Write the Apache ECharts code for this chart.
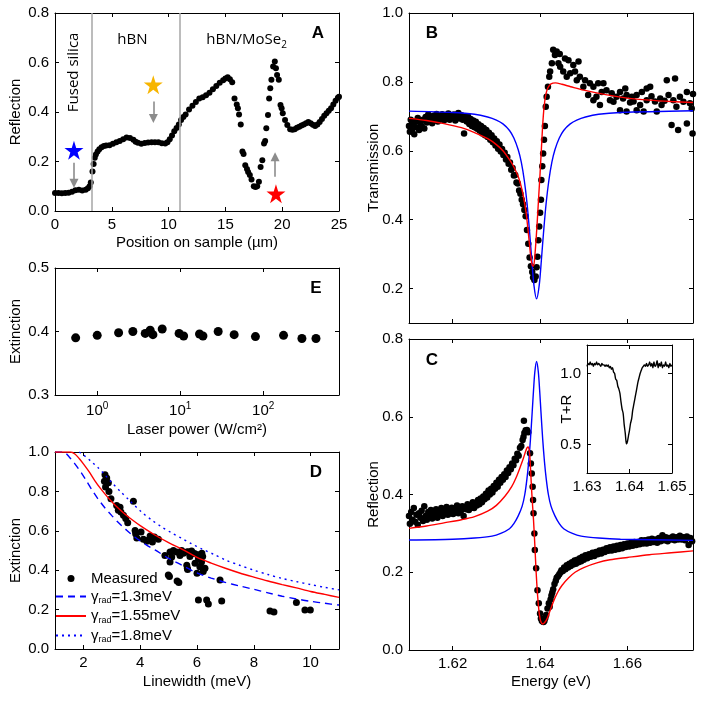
<!DOCTYPE html>
<html>
<head>
<meta charset="utf-8">
<title>Reflection, transmission and extinction</title>
<script src="https://cdn.jsdelivr.net/npm/echarts@6.0.0/dist/echarts.min.js"></script>
<style>
  *{margin:0;padding:0;}
  html,body{width:100%;height:100%;background:#fff;}
  #main{width:709px;height:709px;}
</style>
</head>
<body>
<div id="main"></div>
<script>
// ---- panel A: reflection scan across the sample ----
var aScan = [[0,0.073],[0.3,0.073],[0.6,0.072],[0.9,0.073],[1.2,0.074],[1.5,0.078],[1.8,0.084],[2.1,0.086],[2.4,0.083],[2.7,0.086],
  [2.9,0.092],[3.05,0.100],[3.15,0.115],[3.3,0.16],[3.4,0.19],[3.5,0.215],[3.6,0.228],[3.75,0.24],[3.9,0.25],[4.1,0.258],
  [4.3,0.263],[4.5,0.265],[4.8,0.266],[5.1,0.272],[5.4,0.278],[5.7,0.283],[6.0,0.29],[6.3,0.297],[6.6,0.295],[6.9,0.288],
  [7.1,0.28],[7.3,0.276],[7.6,0.272],[7.9,0.275],[8.2,0.277],[8.5,0.278],[8.8,0.278],[9.1,0.278],[9.4,0.274],[9.7,0.273],
  [9.9,0.278],[10.1,0.29],[10.3,0.305],[10.5,0.322],[10.7,0.335],[10.9,0.35],[11.1,0.368],[11.3,0.38],[11.5,0.39],[11.8,0.41],
  [12.1,0.425],[12.4,0.44],[12.7,0.455],[13.0,0.46],[13.3,0.468],[13.6,0.478],[13.9,0.492],[14.2,0.505],[14.5,0.518],[14.8,0.528],
  [15.0,0.535],[15.2,0.54],[15.4,0.532],[15.6,0.52],[15.8,0.455],[16.0,0.43],[16.1,0.415],[16.2,0.39],[16.35,0.35],[16.5,0.24],
  [16.6,0.23],[16.75,0.185],[16.9,0.17],[17.0,0.158],[17.15,0.145],[17.3,0.127],[17.5,0.10],[17.65,0.097],[17.8,0.10],[17.95,0.118],
  [18.1,0.178],[18.25,0.205],[18.4,0.273],[18.5,0.283],[18.6,0.334],[18.75,0.388],[18.85,0.455],[18.95,0.496],[19.05,0.53],[19.2,0.584],
  [19.35,0.604],[19.45,0.577],[19.55,0.55],[19.7,0.53],[19.85,0.428],[19.95,0.415],[20.05,0.395],[20.25,0.368],[20.45,0.347],[20.7,0.33],
  [20.9,0.328],[21.1,0.33],[21.3,0.336],[21.5,0.34],[21.7,0.345],[21.9,0.35],[22.1,0.355],[22.3,0.36],[22.5,0.355],[22.7,0.348],
  [22.9,0.343],[23.1,0.35],[23.3,0.36],[23.5,0.372],[23.7,0.385],[23.9,0.395],[24.1,0.405],[24.3,0.415],[24.5,0.43],[24.7,0.445],
  [24.9,0.458],[25.0,0.462]];
var aBounds = [3.25, 11];
var aStars = [[1.67,0.245],[8.65,0.51],[19.45,0.07]];
var aStarColors = ['#0000ff','#f7b500','#ff0000'];
var aArrows = [[[1.67,0.195],[1.67,0.112]],[[8.66,0.442],[8.66,0.374]],[[19.37,0.138],[19.37,0.219]]];
var aNotes = [[1.67,0.56,'Fused silica',90],[6.81,0.69,'hBN',0],[16.87,0.69,'{t|hBN/MoSe}{s|2}',0]];

// ---- panel E: extinction vs laser power ----
var ePower = [0.55,1.0,1.81,2.69,3.79,4.35,4.69,6.07,9.7,11.0,17.1,18.8,28.7,44.7,80.7,176,293,433];
var eExt = [0.390,0.394,0.398,0.400,0.397,0.402,0.395,0.404,0.397,0.393,0.396,0.393,0.400,0.395,0.392,0.394,0.389,0.389];

// ---- panel D: extinction vs linewidth ----
var dMeas = [[2.76,0.885],[2.82,0.868],[2.74,0.851],[2.88,0.844],[2.78,0.822],[2.9,0.80],[2.97,0.763],[3.17,0.729],[3.29,0.72],[3.23,0.704],
  [3.32,0.695],[3.41,0.679],[3.49,0.662],[3.56,0.641],[3.76,0.75],[3.82,0.602],[3.84,0.585],[3.88,0.563],[4.03,0.594],[4.11,0.557],
  [4.23,0.547],[4.35,0.574],[4.5,0.568],[4.43,0.543],[4.64,0.557],[4.29,0.553],[4.87,0.475],[4.99,0.376],[5.03,0.368],[5.3,0.345],
  [5.36,0.338],[5.05,0.492],[5.17,0.50],[5.28,0.492],[5.46,0.50],[5.64,0.492],[5.81,0.497],[5.93,0.484],[6.05,0.459],[6.16,0.442],
  [5.11,0.467],[5.05,0.442],[5.64,0.425],[5.67,0.404],[5.52,0.486],[5.69,0.494],[5.87,0.486],[6.05,0.478],[6.17,0.486],[5.66,0.41],
  [5.93,0.435],[6.1,0.418],[6.22,0.393],[6.0,0.384],[6.28,0.41],[6.81,0.35],[6.05,0.249],[6.34,0.249],[6.4,0.229],[6.87,0.244],
  [8.57,0.193],[8.71,0.188],[9.5,0.236],[9.8,0.198],[9.99,0.198],[5.4,0.475],[5.75,0.47],[6.2,0.47]];
var dFit13 = [[1.0,1.0],[1.3,1.0],[1.5,0.975],[1.7,0.94],[1.94,0.892],[2.1,0.855],[2.29,0.81],[2.5,0.765],[2.76,0.716],[3.0,0.677],
  [3.23,0.642],[3.5,0.606],[3.82,0.567],[4.2,0.53],[4.52,0.503],[5.0,0.46],[5.46,0.426],[6.0,0.386],[6.5,0.36],[7.0,0.338],
  [7.5,0.32],[8.0,0.303],[8.5,0.285],[9.0,0.268],[9.5,0.254],[10.0,0.242],[10.5,0.232],[11.0,0.223]];
var dFit155 = [[1.0,1.0],[1.55,1.0],[1.7,0.99],[1.85,0.967],[2.0,0.94],[2.2,0.90],[2.4,0.855],[2.6,0.815],[2.8,0.78],[3.0,0.748],
  [3.25,0.712],[3.5,0.68],[3.75,0.652],[4.0,0.626],[4.5,0.58],[5.0,0.54],[5.5,0.505],[6.0,0.465],[6.5,0.436],[7.0,0.41],
  [7.5,0.386],[8.0,0.365],[8.5,0.345],[9.0,0.327],[9.5,0.31],[10.0,0.292],[10.5,0.277],[11.0,0.262]];
var dFit18 = [[1.85,1.0],[2.0,0.985],[2.25,0.955],[2.52,0.92],[2.75,0.885],[3.0,0.845],[3.3,0.80],[3.58,0.76],[4.05,0.695],[4.4,0.655],
  [4.75,0.62],[5.1,0.59],[5.46,0.562],[5.8,0.535],[6.17,0.508],[6.6,0.48],[7.0,0.452],[7.5,0.425],[8.0,0.40],[8.5,0.378],
  [9.0,0.358],[9.5,0.342],[10.0,0.327],[10.5,0.313],[11.0,0.30]];

// ---- panel B: transmission spectrum ----
var bMeas = [[1.6100,0.672],[1.6102,0.655],[1.6104,0.690],[1.6107,0.660],[1.6109,0.678],[1.6112,0.648],[1.6115,0.685],[1.6117,0.668],
  [1.6120,0.695],[1.6123,0.660],[1.6126,0.682],[1.6129,0.672],[1.6132,0.690],[1.6135,0.665],[1.6138,0.698],[1.6141,0.682],[1.6144,0.705],
  [1.6147,0.688],[1.6150,0.696],[1.6153,0.680],[1.6156,0.702],[1.6160,0.690],[1.6163,0.707],[1.6166,0.685],[1.6170,0.698],[1.6173,0.692],
  [1.6176,0.706],[1.6180,0.688],[1.6183,0.700],[1.6186,0.694],[1.6190,0.708],[1.6193,0.690],[1.6196,0.702],[1.6200,0.697],[1.6203,0.705],
  [1.6206,0.688],[1.6210,0.700],[1.6213,0.710],[1.6216,0.694],[1.6220,0.703],[1.6223,0.690],[1.6226,0.650],[1.6229,0.698],[1.6232,0.685],
  [1.6235,0.700],[1.6238,0.678],[1.6241,0.692],[1.6244,0.672],[1.6247,0.688],[1.6250,0.668],[1.6253,0.684],[1.6256,0.664],[1.6259,0.677],
  [1.6262,0.658],[1.6265,0.672],[1.6268,0.650],[1.6271,0.666],[1.6274,0.645],[1.6277,0.660],[1.6280,0.640],[1.6283,0.652],[1.6286,0.632],
  [1.6289,0.645],[1.6292,0.625],[1.6295,0.636],[1.6298,0.615],[1.6301,0.628],[1.6304,0.606],[1.6307,0.618],[1.6310,0.598],[1.6313,0.605],
  [1.6316,0.588],[1.6319,0.594],[1.6322,0.575],[1.6325,0.582],[1.6328,0.562],[1.6331,0.566],[1.6334,0.545],[1.6337,0.550],[1.6340,0.528],
  [1.6343,0.530],[1.6346,0.508],[1.6349,0.505],[1.6352,0.485],[1.6355,0.475],[1.6358,0.458],[1.6361,0.445],[1.6364,0.428],[1.6367,0.410],
  [1.6370,0.370],[1.6373,0.330],[1.6376,0.290],[1.6379,0.265],[1.6382,0.248],[1.6384,0.232],[1.6387,0.225],[1.6390,0.235],[1.6392,0.262],
  [1.6394,0.292],[1.6396,0.340],[1.6398,0.380],[1.6400,0.420],[1.6402,0.458],[1.6403,0.515],[1.6405,0.555],[1.6407,0.592],[1.6409,0.632],
  [1.6411,0.672],[1.6413,0.728],[1.6415,0.757],[1.6418,0.786],[1.6421,0.815],[1.6423,0.830],[1.6430,0.893],[1.6438,0.888],[1.6445,0.881],
  [1.6434,0.878],[1.6427,0.854],[1.6442,0.854],[1.6457,0.868],[1.6465,0.863],[1.6488,0.859],[1.6476,0.849],[1.6446,0.844],[1.6453,0.830],
  [1.6469,0.825],[1.6480,0.830],[1.6491,0.815],[1.6503,0.805],[1.6514,0.796],[1.6461,0.815],[1.6484,0.805],[1.6499,0.786],[1.6522,0.786],
  [1.6533,0.796],[1.6545,0.796],[1.6510,0.762],[1.6529,0.757],[1.6541,0.771],[1.6552,0.776],[1.6564,0.767],[1.6575,0.757],[1.6560,0.747],
  [1.6583,0.771],[1.6595,0.781],[1.6598,0.762],[1.6610,0.757],[1.6621,0.762],[1.6633,0.771],[1.6644,0.781],[1.6652,0.786],[1.6614,0.743],
  [1.6629,0.733],[1.6644,0.747],[1.6663,0.743],[1.6675,0.752],[1.6690,0.805],[1.6709,0.810],[1.6694,0.762],[1.6705,0.747],[1.6720,0.757],
  [1.6736,0.771],[1.6743,0.738],[1.6701,0.675],[1.6716,0.660],[1.6736,0.679],[1.6747,0.723],[1.6667,0.714],[1.6678,0.733],[1.6583,0.718],
  [1.6598,0.714],[1.6621,0.718],[1.6637,0.714],[1.6537,0.733],[1.6522,0.747],[1.6568,0.742],[1.6590,0.752],[1.6606,0.740],[1.6655,0.758],
  [1.6685,0.745],[1.6712,0.728],[1.6728,0.742],[1.6750,0.765],[1.6752,0.700],[1.6749,0.650]];
var bFitRed = [[1.61,0.694],[1.614,0.688],[1.618,0.679],[1.622,0.667],[1.625,0.653],[1.628,0.635],[1.630,0.618],[1.6315,0.600],
  [1.633,0.574],[1.634,0.553],[1.635,0.525],[1.6357,0.495],[1.6363,0.46],[1.6368,0.42],[1.6372,0.375],[1.6376,0.325],[1.6379,0.29],
  [1.6382,0.268],[1.6385,0.265],[1.6388,0.295],[1.6391,0.345],[1.6394,0.405],[1.6397,0.47],[1.64,0.535],[1.6403,0.605],[1.6406,0.675],
  [1.6409,0.725],[1.6413,0.762],[1.6418,0.783],[1.6425,0.794],[1.6435,0.797],[1.645,0.793],[1.647,0.786],[1.65,0.776],[1.655,0.763],
  [1.66,0.753],[1.665,0.747],[1.67,0.743],[1.675,0.740]];
var bFitBlue = [[1.61,0.715],[1.62,0.711],[1.625,0.706],[1.628,0.698],[1.63,0.689],[1.6315,0.678],[1.633,0.659],[1.634,0.637],
  [1.635,0.603],[1.6357,0.567],[1.6364,0.513],[1.637,0.449],[1.6376,0.364],[1.6381,0.283],[1.6386,0.209],[1.6392,0.17],[1.6398,0.209],
  [1.6403,0.283],[1.6408,0.364],[1.6414,0.449],[1.642,0.513],[1.6427,0.567],[1.6434,0.603],[1.6444,0.637],[1.6454,0.659],[1.6469,0.678],
  [1.6484,0.689],[1.6504,0.698],[1.6534,0.706],[1.6584,0.711],[1.675,0.716]];

// ---- panel C: reflection spectrum ----
var cMeas = [[1.6100,0.345],[1.6102,0.325],[1.6105,0.355],[1.6108,0.335],[1.6111,0.365],[1.6114,0.330],[1.6117,0.348],[1.6120,0.322],
  [1.6123,0.352],[1.6126,0.340],[1.6129,0.358],[1.6132,0.332],[1.6135,0.370],[1.6138,0.345],[1.6141,0.335],[1.6144,0.355],[1.6147,0.342],
  [1.6150,0.360],[1.6153,0.338],[1.6156,0.352],[1.6159,0.345],[1.6162,0.362],[1.6165,0.340],[1.6168,0.356],[1.6171,0.348],[1.6174,0.365],
  [1.6177,0.345],[1.6180,0.358],[1.6183,0.350],[1.6186,0.368],[1.6189,0.348],[1.6192,0.360],[1.6195,0.352],[1.6198,0.366],[1.6201,0.350],
  [1.6204,0.362],[1.6207,0.355],[1.6210,0.372],[1.6213,0.352],[1.6216,0.365],[1.6219,0.358],[1.6222,0.370],[1.6225,0.345],[1.6228,0.368],
  [1.6231,0.362],[1.6234,0.375],[1.6237,0.360],[1.6240,0.372],[1.6243,0.366],[1.6246,0.380],[1.6249,0.365],[1.6252,0.378],[1.6255,0.372],
  [1.6258,0.386],[1.6261,0.375],[1.6264,0.390],[1.6267,0.380],[1.6270,0.395],[1.6273,0.388],[1.6276,0.402],[1.6279,0.392],[1.6282,0.410],
  [1.6285,0.400],[1.6288,0.415],[1.6291,0.405],[1.6294,0.422],[1.6297,0.415],[1.6300,0.430],[1.6303,0.420],[1.6306,0.438],[1.6309,0.430],
  [1.6312,0.445],[1.6315,0.438],[1.6318,0.452],[1.6321,0.445],[1.6324,0.462],[1.6327,0.455],[1.6330,0.470],[1.6333,0.465],[1.6336,0.480],
  [1.6339,0.475],[1.6342,0.492],[1.6345,0.488],[1.6348,0.505],[1.6351,0.500],[1.6354,0.520],[1.6357,0.525],[1.6360,0.540],[1.6362,0.548],
  [1.6364,0.558],[1.6363,0.590],[1.6367,0.565],[1.6370,0.566],[1.6373,0.560],[1.6377,0.506],[1.6379,0.480],[1.6381,0.454],[1.6383,0.420],
  [1.6384,0.386],[1.6385,0.352],[1.6387,0.300],[1.6388,0.257],[1.6391,0.210],[1.6394,0.154],[1.6397,0.120],[1.6400,0.094],[1.6402,0.081],
  [1.6404,0.075],[1.6406,0.073],[1.6408,0.072],[1.6410,0.075],[1.6412,0.082],[1.6414,0.090],[1.6417,0.107],[1.6420,0.120],[1.6422,0.111],
  [1.6424,0.130],[1.6426,0.140],[1.6428,0.148],[1.6430,0.156],[1.6433,0.170],[1.6436,0.178],[1.6438,0.186],[1.6441,0.190],[1.6444,0.195],
  [1.6447,0.200],[1.6449,0.205],[1.6452,0.203],[1.6455,0.212],[1.6458,0.208],[1.6461,0.218],[1.6464,0.212],[1.6467,0.222],[1.6470,0.216],
  [1.6473,0.226],[1.6476,0.220],[1.6479,0.230],[1.6482,0.222],[1.6485,0.232],[1.6488,0.226],[1.6491,0.236],[1.6494,0.228],[1.6497,0.240],
  [1.6500,0.232],[1.6504,0.244],[1.6508,0.236],[1.6512,0.246],[1.6516,0.240],[1.6520,0.250],[1.6524,0.242],[1.6528,0.252],[1.6532,0.246],
  [1.6536,0.256],[1.6540,0.248],[1.6544,0.258],[1.6548,0.252],[1.6552,0.262],[1.6556,0.255],[1.6560,0.264],[1.6564,0.256],[1.6568,0.266],
  [1.6572,0.258],[1.6576,0.268],[1.6580,0.260],[1.6584,0.270],[1.6588,0.262],[1.6592,0.272],[1.6596,0.265],[1.6600,0.274],[1.6604,0.266],
  [1.6608,0.276],[1.6612,0.268],[1.6616,0.278],[1.6620,0.270],[1.6624,0.278],[1.6628,0.272],[1.6632,0.282],[1.6636,0.274],[1.6640,0.282],
  [1.6644,0.274],[1.6648,0.284],[1.6652,0.276],[1.6656,0.286],[1.6660,0.278],[1.6664,0.284],[1.6668,0.276],[1.6672,0.288],[1.6676,0.280],
  [1.6680,0.295],[1.6684,0.282],[1.6688,0.290],[1.6692,0.280],[1.6696,0.288],[1.6700,0.284],[1.6704,0.292],[1.6708,0.282],[1.6712,0.290],
  [1.6716,0.284],[1.6720,0.294],[1.6724,0.284],[1.6728,0.290],[1.6732,0.282],[1.6736,0.292],[1.6740,0.270],[1.6744,0.288],[1.6748,0.280],
  [1.6752,0.290]];
var cFitRed = [[1.61,0.313],[1.614,0.319],[1.618,0.327],[1.622,0.335],[1.625,0.343],[1.628,0.357],[1.630,0.372],[1.632,0.396],
  [1.6335,0.42],[1.6345,0.443],[1.6355,0.472],[1.6362,0.494],[1.6367,0.511],[1.637,0.52],[1.6373,0.522],[1.6376,0.505],[1.6378,0.47],
  [1.638,0.425],[1.6382,0.386],[1.6385,0.334],[1.6388,0.27],[1.6391,0.20],[1.6394,0.145],[1.6397,0.105],[1.64,0.08],[1.6403,0.07],
  [1.6406,0.067],[1.641,0.07],[1.6415,0.078],[1.642,0.092],[1.643,0.123],[1.644,0.148],[1.645,0.166],[1.6465,0.185],[1.648,0.20],
  [1.65,0.212],[1.653,0.224],[1.656,0.232],[1.66,0.238],[1.665,0.245],[1.67,0.25],[1.675,0.255]];
var cFitBlue = [[1.61,0.283],[1.62,0.285],[1.625,0.288],[1.629,0.293],[1.631,0.30],[1.633,0.312],[1.634,0.325],[1.635,0.345],
  [1.6359,0.37],[1.6365,0.40],[1.637,0.441],[1.6374,0.485],[1.6378,0.542],[1.6382,0.613],[1.6385,0.668],[1.6388,0.715],[1.6392,0.742],
  [1.6396,0.715],[1.6399,0.668],[1.6402,0.613],[1.6406,0.542],[1.641,0.485],[1.6414,0.441],[1.6419,0.40],[1.6425,0.37],[1.6434,0.345],
  [1.6444,0.325],[1.6454,0.312],[1.6474,0.30],[1.6494,0.293],[1.6534,0.288],[1.6584,0.285],[1.675,0.282]];

// ---- inset: T+R ----
var tr = [[1.6300,1.05],[1.63025,1.07],[1.6305,1.06],[1.63075,1.08],[1.6310,1.06],[1.63125,1.07],[1.6315,1.05],[1.63175,1.07],[1.6320,1.06],
  [1.63225,1.08],[1.6325,1.06],[1.63275,1.07],[1.6330,1.06],[1.63325,1.05],[1.6335,1.07],[1.63375,1.06],[1.6340,1.06],[1.63425,1.05],
  [1.6345,1.06],[1.63475,1.05],[1.6350,1.06],[1.63525,1.04],[1.6355,1.05],[1.63575,1.03],[1.6360,1.04],[1.63625,1.01],[1.6365,1.00],
  [1.63675,0.96],[1.6370,0.95],[1.63725,0.91],[1.6375,0.89],[1.63775,0.86],[1.6380,0.80],[1.63825,0.75],[1.6385,0.72],[1.63875,0.64],
  [1.6390,0.58],[1.63915,0.53],[1.6393,0.505],[1.6395,0.52],[1.63975,0.56],[1.6400,0.60],[1.64025,0.65],[1.6405,0.68],[1.64075,0.74],
  [1.6410,0.78],[1.64125,0.82],[1.6415,0.86],[1.64175,0.90],[1.6420,0.94],[1.64225,0.97],[1.6425,1.00],[1.64275,1.02],[1.6430,1.04],
  [1.64325,1.05],[1.6435,1.06],[1.64375,1.05],[1.6440,1.07],[1.64425,1.05],[1.6445,1.06],[1.64475,1.08],[1.6450,1.05],[1.64525,1.07],
  [1.6455,1.04],[1.64575,1.08],[1.6460,1.05],[1.64625,1.06],[1.6465,1.09],[1.64675,1.04],[1.6470,1.07],[1.64725,1.05],[1.6475,1.08],
  [1.64775,1.04],[1.6480,1.06],[1.64825,1.05],[1.6485,1.08],[1.64875,1.05],[1.6490,1.06],[1.64925,1.04],[1.6495,1.07],[1.64975,1.05],
  [1.6500,1.06]];

var FONT = '"Liberation Sans", Arial, sans-serif';
var NOTEFONT = '"Open Sans", sans-serif';
var STAR = 'path://M50,0 L61.2,34.5 L97.6,34.5 L68.2,55.9 L79.4,90.5 L50,69.1 L20.6,90.5 L31.8,55.9 L2.4,34.5 L38.8,34.5 Z';

var xAxes = [], yAxes = [];
function axis(gi, a, mirror, pos) {
  return {
    gridIndex: gi, position: pos, type: a.type || 'value', logBase: 10,
    min: a.min, max: a.max, interval: a.interval, z: a.z || 0,
    axisLine: {show: true, onZero: false, lineStyle: {color: '#000', width: 1}},
    axisTick: {show: true, inside: true, length: 4, lineStyle: {color: '#000'}, customValues: a.ticks},
    splitLine: {show: false},
    axisLabel: {show: !mirror && a.labels !== false, color: '#000', fontFamily: FONT, fontSize: 15,
      margin: 6, customValues: a.ticks, formatter: a.fmt,
      rich: {b: {fontFamily: FONT, fontSize: 15, color: '#000'},
             p: {fontFamily: FONT, fontSize: 10, color: '#000', padding: [0, 0, 9, 0]}}},
    name: mirror ? '' : a.name, nameLocation: 'middle', nameGap: a.gap, nameMoveOverlap: false,
    nameTextStyle: {color: '#000', fontFamily: FONT, fontSize: 15}
  };
}
function addPanel(gi, x, y) {
  xAxes.push(axis(gi, x, false, 'bottom'), axis(gi, x, true, 'top'));
  yAxes.push(axis(gi, y, false, 'left'), axis(gi, y, true, 'right'));
}
function f1(v) { return v.toFixed(1); }
function f2(v) { return v.toFixed(2); }

// 0 A, 1 E, 2 D, 3 B, 4 C, 5 inset
addPanel(0, {min: 0, max: 25, interval: 5, name: 'Position on sample (\u00b5m)', gap: 24},
            {min: 0, max: 0.8, interval: 0.2, fmt: f1, name: 'Reflection', gap: 32});
addPanel(1, {type: 'log', min: 0.31, max: 820, ticks: [1, 10, 100], name: 'Laser power (W/cm\u00b2)', gap: 27,
             fmt: function (v) { return '{b|10}{p|' + Math.round(Math.log(v) / Math.LN10) + '}'; }},
            {min: 0.3, max: 0.5, interval: 0.1, fmt: f1, name: 'Extinction', gap: 32});
addPanel(2, {min: 1, max: 11, ticks: [2, 4, 6, 8, 10], name: 'Linewidth (meV)', gap: 25},
            {min: 0, max: 1, interval: 0.2, fmt: f1, name: 'Extinction', gap: 32});
addPanel(3, {min: 1.61, max: 1.675, ticks: [1.62, 1.64, 1.66], labels: false},
            {min: 0.1, max: 1.0, ticks: [0.2, 0.4, 0.6, 0.8, 1.0], fmt: f1, name: 'Transmission', gap: 28});
addPanel(4, {min: 1.61, max: 1.675, ticks: [1.62, 1.64, 1.66], fmt: f2, name: 'Energy (eV)', gap: 24},
            {min: 0, max: 0.8, interval: 0.2, fmt: f1, name: 'Reflection', gap: 28});
addPanel(5, {min: 1.63, max: 1.65, ticks: [1.63, 1.64, 1.65], fmt: f2, z: 6},
            {min: 0.3, max: 1.2, ticks: [0.5, 1.0], fmt: f1, name: 'T+R', gap: 13, z: 6});

function dots(gi, data, size, name) {
  return {type: 'scatter', name: name || '', xAxisIndex: 2 * gi, yAxisIndex: 2 * gi, data: data,
    symbolSize: size, itemStyle: {color: '#000', opacity: 1}, silent: true};
}
function curve(gi, data, color, type, name, z) {
  return {type: 'line', name: name || '', xAxisIndex: 2 * gi, yAxisIndex: 2 * gi, data: data,
    showSymbol: false, symbol: 'none', smooth: 0.3, z: z || 3,
    lineStyle: {color: color, width: 1.4, type: type || 'solid'}, itemStyle: {color: color}, silent: true};
}

var eData = ePower.map(function (p, i) { return [p, eExt[i]]; });

var aScanSeries = dots(0, aScan, 6);
aScanSeries.markLine = {silent: true, symbol: 'none', label: {show: false},
  lineStyle: {color: '#a6a6a6', width: 1.5, type: 'solid'},
  data: aBounds.map(function (b) { return {xAxis: b}; })};

var aStarSeries = {type: 'scatter', xAxisIndex: 0, yAxisIndex: 0, symbol: STAR, symbolSize: 19, silent: true, z: 4,
  itemStyle: {opacity: 1},
  data: aStars.map(function (s, i) { return {value: s, itemStyle: {color: aStarColors[i], opacity: 1}}; }),
  markLine: {silent: true, symbol: ['none', 'triangle'], symbolSize: 9, label: {show: false},
    lineStyle: {color: '#8c8c8c', width: 1.6, type: 'solid'},
    itemStyle: {color: '#8c8c8c'},
    data: aArrows.map(function (ar) { return [{coord: ar[0]}, {coord: ar[1]}]; })}};

var aNoteSeries = {type: 'scatter', xAxisIndex: 0, yAxisIndex: 0, symbolSize: 0, silent: true, z: 5,
  itemStyle: {opacity: 1},
  data: aNotes.map(function (n) {
    return {value: [n[0], n[1]], label: {show: true, position: 'inside', formatter: n[2], rotate: n[3],
      color: '#000', fontFamily: NOTEFONT, fontSize: 15,
      rich: {t: {fontFamily: NOTEFONT, fontSize: 15, color: '#000'},
             s: {fontFamily: NOTEFONT, fontSize: 10, color: '#000', padding: [9, 0, 0, 0]}}}};
  })};

var legendText = {
  'Measured': '{g|Measured}',
  'g13': '{g|\u03b3}{s|rad}{g|=1.3meV}',
  'g155': '{g|\u03b3}{s|rad}{g|=1.55meV}',
  'g18': '{g|\u03b3}{s|rad}{g|=1.8meV}'
};

var letters = [['A', 318, 33], ['B', 432, 33], ['C', 432, 360], ['E', 316, 288], ['D', 316, 472]];

var chart = echarts.init(document.getElementById('main'));
chart.setOption({
  animation: false,
  backgroundColor: '#fff',
  grid: [
    {left: 55, top: 13, width: 284, height: 198},
    {left: 55, top: 268, width: 284, height: 127},
    {left: 55, top: 452, width: 284, height: 197},
    {left: 409, top: 13, width: 284, height: 310},
    {left: 409, top: 339, width: 284, height: 311},
    {left: 587, top: 345, width: 85, height: 128, show: true, backgroundColor: '#fff', borderWidth: 0, z: 5}
  ],
  xAxis: xAxes,
  yAxis: yAxes,
  legend: {
    data: [
      {name: 'Measured', icon: 'circle'},
      {name: 'g13', itemStyle: {opacity: 0}},
      {name: 'g155', itemStyle: {opacity: 0}},
      {name: 'g18', itemStyle: {opacity: 0}}
    ],
    orient: 'vertical', left: 55, top: 571, padding: 0, itemWidth: 30, itemHeight: 7, itemGap: 3,
    formatter: function (n) { return legendText[n]; },
    selectedMode: false,
    textStyle: {color: '#000', fontFamily: FONT, fontSize: 15,
      rich: {g: {fontFamily: FONT, fontSize: 15, color: '#000', lineHeight: 17},
             s: {fontFamily: FONT, fontSize: 9, color: '#000', padding: [9, 0, 0, 0]}}}
  },
  graphic: letters.map(function (l) {
    return {type: 'text', x: l[1], y: l[2], z: 10, silent: true,
      style: {text: l[0], fill: '#000', font: 'bold 17px ' + FONT,
        textAlign: 'center', textVerticalAlign: 'middle', align: 'center', verticalAlign: 'middle'}};
  }),
  series: [
    aScanSeries, aStarSeries, aNoteSeries,
    dots(1, eData, 9),
    curve(2, dFit13, '#0000ff', [7, 5], 'g13'),
    curve(2, dFit155, '#ff0000', 'solid', 'g155'),
    curve(2, dFit18, '#0000ff', [2, 4], 'g18'),
    dots(2, dMeas, 7, 'Measured'),
    dots(3, bMeas, 6.5),
    curve(3, bFitBlue, '#0000ff'),
    curve(3, bFitRed, '#ff0000'),
    dots(4, cMeas, 6.5),
    curve(4, cFitBlue, '#0000ff'),
    curve(4, cFitRed, '#ff0000'),
    curve(5, tr, '#000', 'solid', '', 6)
  ]
});
</script>
</body>
</html>
